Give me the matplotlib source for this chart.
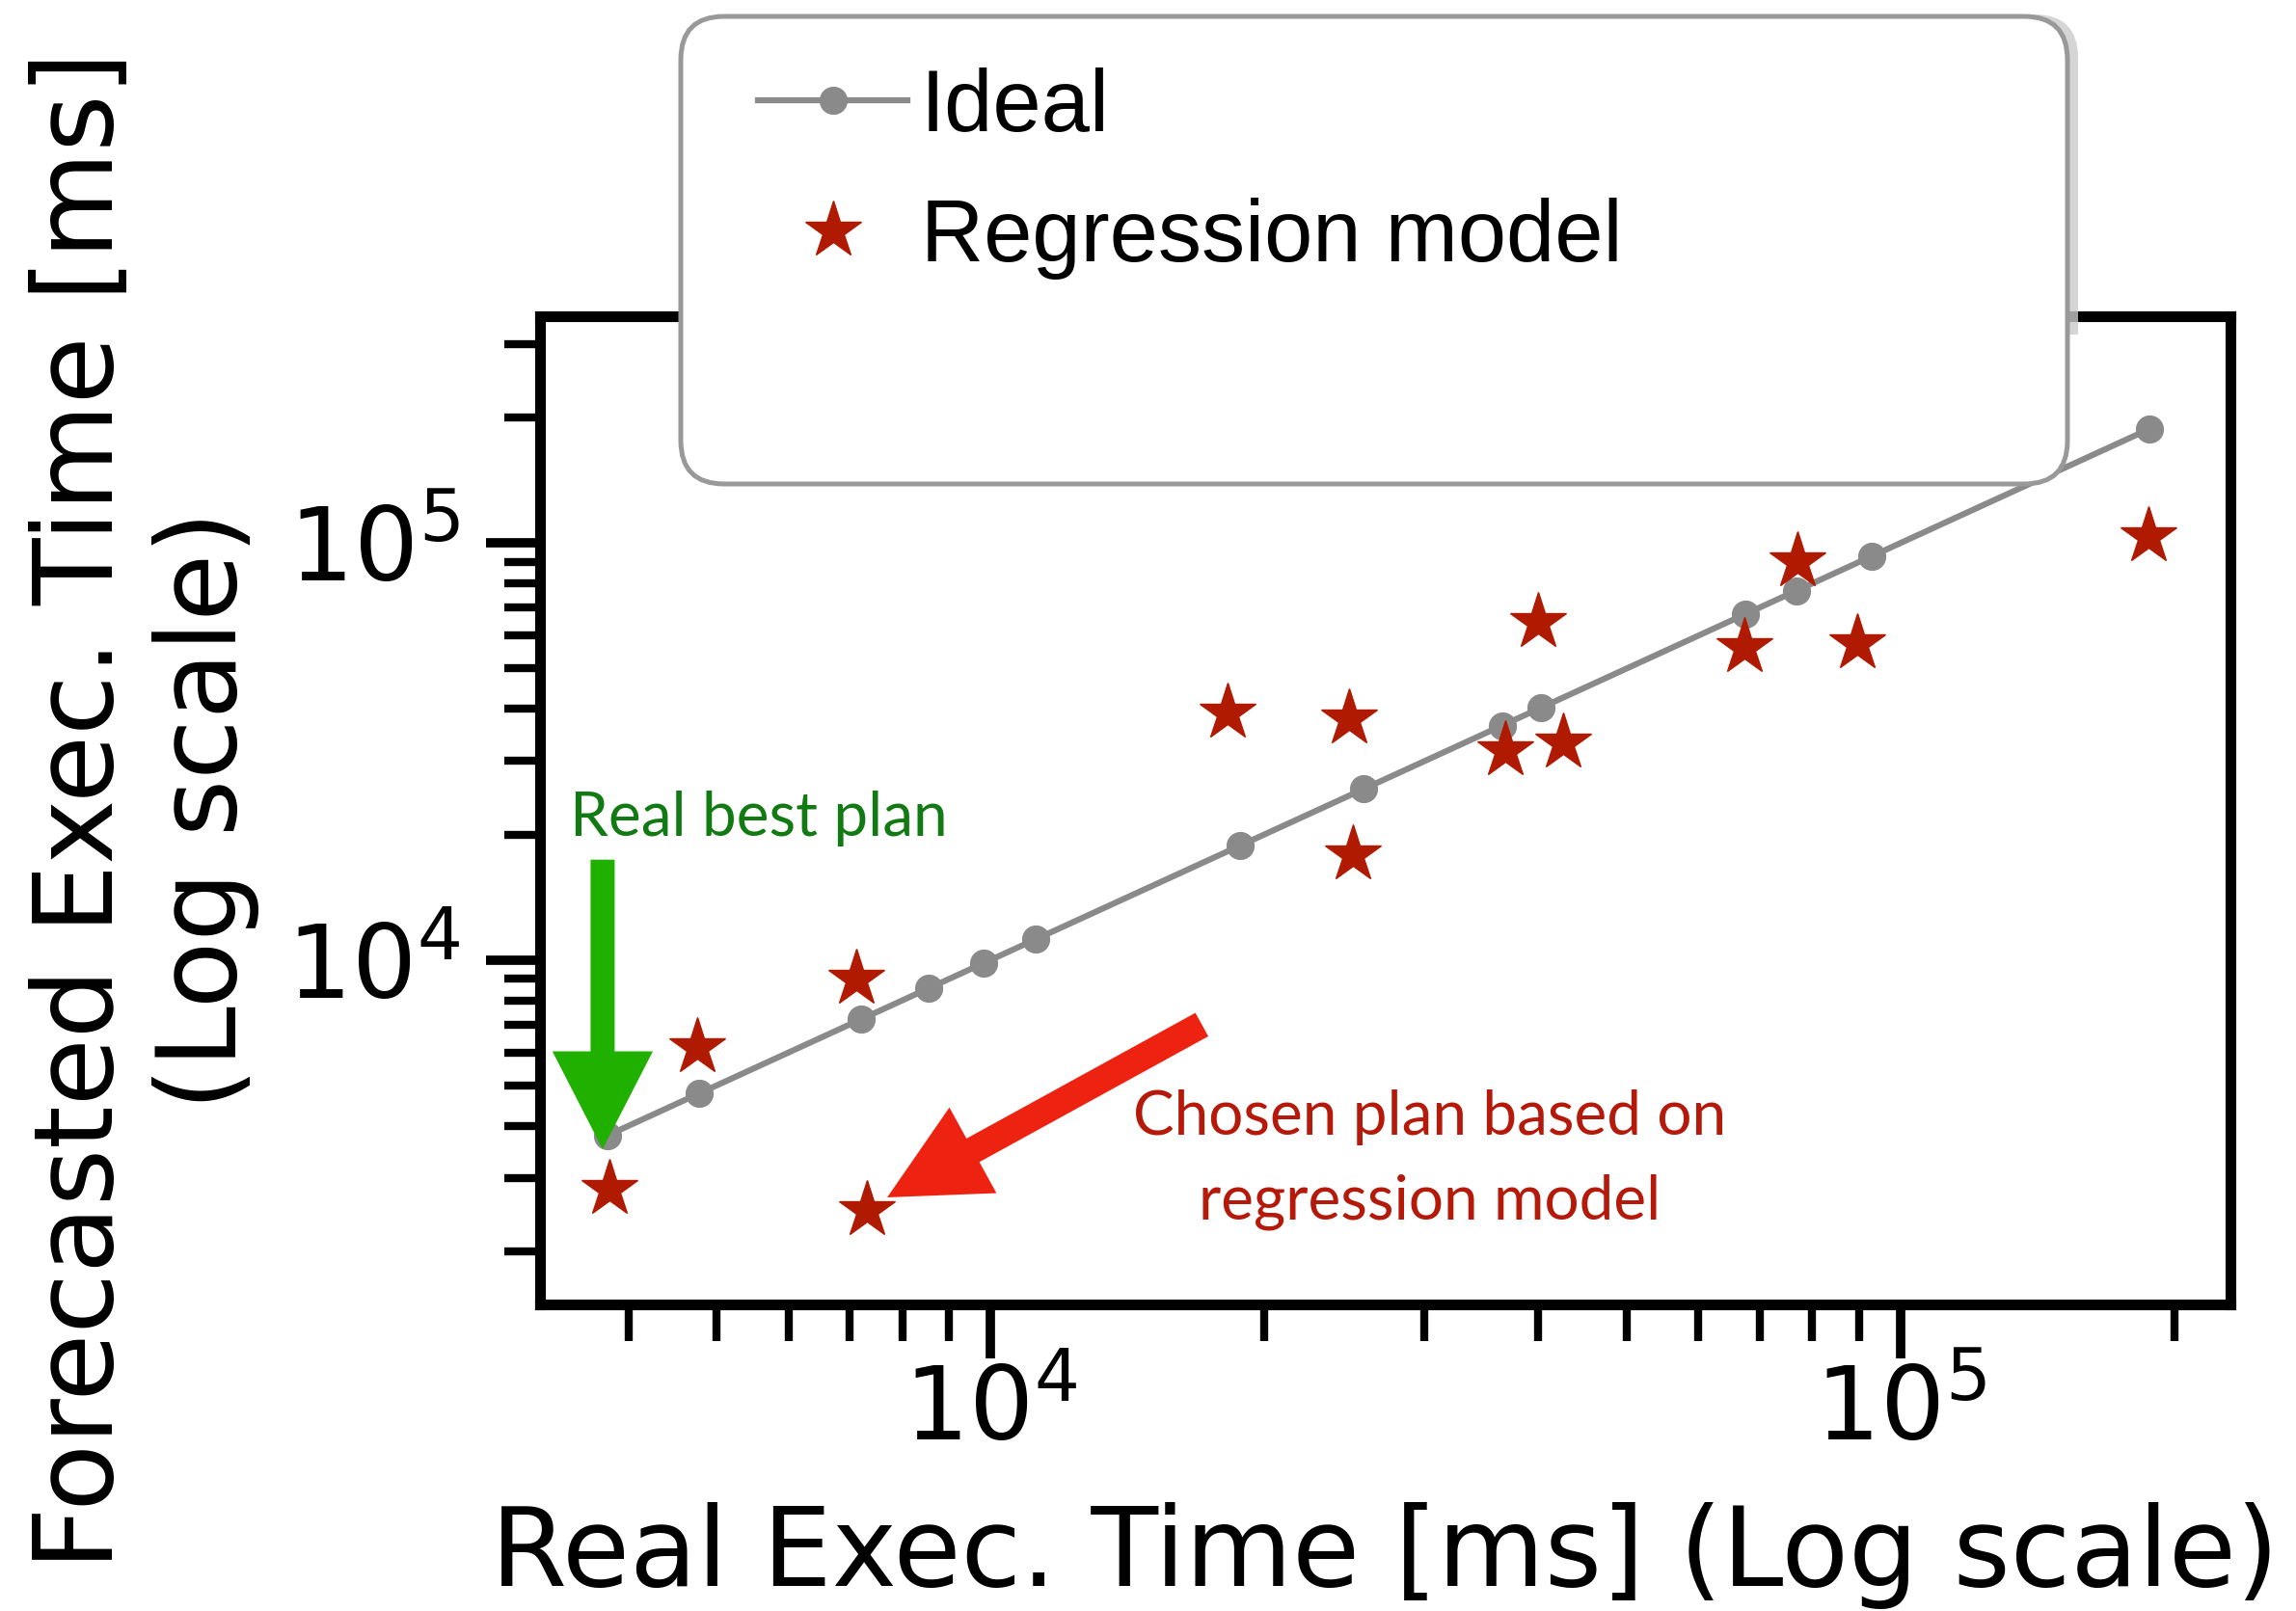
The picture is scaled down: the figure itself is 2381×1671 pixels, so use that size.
import matplotlib
matplotlib.use('Agg')
import matplotlib.pyplot as plt
from matplotlib.patches import FancyBboxPatch, FancyArrowPatch, Rectangle
from matplotlib.transforms import IdentityTransform
from matplotlib.ticker import NullFormatter
from matplotlib.font_manager import FontProperties

# Ideal line (forecast == real)
ideal_real = [3790, 4780, 7200, 8550, 9820, 11200, 18800, 25700, 36500, 40300, 67500, 76800, 92900, 188000]
ideal_forecast = [3790, 4780, 7200, 8550, 9820, 11200, 18800, 25700, 36500, 40300, 67500, 76800, 92900, 188000]

# Regression model forecasts
reg_real = [3810, 4760, 7120, 7320, 18200, 24800, 25000, 36750, 42550, 40000, 67300, 77000, 89600, 187300]
reg_forecast = [2830, 6180, 9000, 2520, 39200, 38000, 17900, 31900, 33300, 64600, 56300, 90300, 57500, 104200]

grey = '#8a8a8a'
dark_red = '#b01a00'

W, H = 2381, 1671
fig = plt.figure(figsize=(W / 100, H / 100), dpi=100)
ax = fig.add_axes([560 / W, 1 - 1353 / H, (2313 - 560) / W, (1353 - 328) / H])
ax.set_xscale('log')
ax.set_yscale('log')
ax.set_xlim(3198, 230500)
ax.set_ylim(1492, 350000)

ax.plot(ideal_real, ideal_forecast, '-o', color=grey, lw=4.5, ms=20, label='Ideal', zorder=3)
ax.plot(reg_real, reg_forecast, linestyle='none', marker='*', ms=44, color=dark_red,
        label='Regression model', zorder=4)

for s in ['top', 'right', 'bottom', 'left']:
    ax.spines[s].set_linewidth(8)
ax.tick_params(which='major', length=40, width=7, direction='out', labelsize=76)
ax.tick_params(which='minor', length=27, width=6, direction='out')
ax.tick_params(axis='x', which='major', pad=4)
ax.tick_params(axis='y', which='major', pad=20)
ax.xaxis.set_minor_formatter(NullFormatter())
ax.yaxis.set_minor_formatter(NullFormatter())

ax.set_xlabel('Real Exec. Time [ms] (Log scale)', fontsize=82)
ax.xaxis.set_label_coords(0.5, -0.2)
ax.set_ylabel('Forecasted Exec. Time [ms]\n(Log scale)', fontsize=82)
ax.yaxis.set_label_coords(-0.166, 0.5)

# Annotations
ax.add_patch(FancyArrowPatch((3747, 17400), (3747, 3518),
                             arrowstyle='simple,head_length=73,head_width=75,tail_width=18',
                             mutation_scale=1, color='#20b000', lw=0, shrinkA=0, shrinkB=0, zorder=5))
ax.add_patch(FancyArrowPatch((17070, 6998), (7700, 2695),
                             arrowstyle='simple,head_length=73,head_width=73,tail_width=20',
                             mutation_scale=1, color='#ee2211', lw=0, shrinkA=0, shrinkB=0, zorder=5))
ann_font = dict(family=['Lato', 'DejaVu Sans'], fontsize=46)
ax.text(3448, 19890, 'Real best plan', color='#127a12', ha='left', va='baseline', **ann_font)
ax.text(30380, 3811, 'Chosen plan based on', color='#b5190a', ha='center', va='baseline', **ann_font)
ax.text(30380, 2384, 'regression model', color='#b5190a', ha='center', va='baseline', **ann_font)

# Legend box with shadow
shadow = FancyBboxPatch((716, H - 600), 2155 - 716, 600 - 15,
                        boxstyle='round,pad=0,rounding_size=45', fc='#cbcbcb', ec='none',
                        alpha=0.8, transform=IdentityTransform(), zorder=4.9)
clip = Rectangle((0, H - 347), W, 347, transform=IdentityTransform())
shadow.set_clip_path(clip)
fig.add_artist(shadow)
frame = FancyBboxPatch((706, H - 502), 2144 - 706, 502 - 17,
                       boxstyle='round,pad=0,rounding_size=45', fc='white', ec='#999999',
                       lw=3.6, transform=IdentityTransform(), zorder=5)
fig.add_artist(frame)

handles, labels = ax.get_legend_handles_labels()
leg = fig.legend(handles, labels, loc='upper left', bbox_to_anchor=(786 / W, 1 - 70 / H),
                 frameon=False, prop=FontProperties(family='Liberation Sans', size=65),
                 handlelength=1.72, handletextpad=0.15, labelspacing=0.55,
                 borderpad=0, borderaxespad=0, numpoints=1)
leg.set_zorder(6)

fig.savefig('out.png', dpi=100)
